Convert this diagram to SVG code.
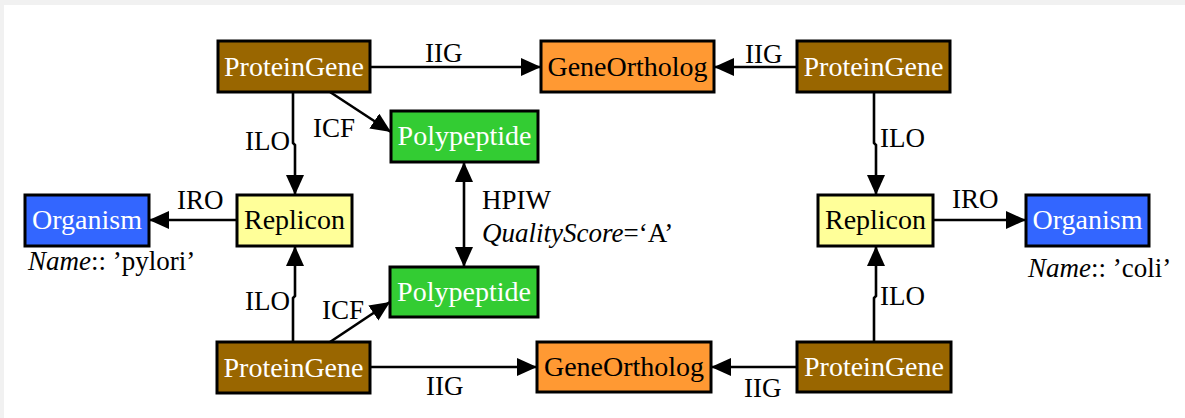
<svg xmlns="http://www.w3.org/2000/svg" width="1185" height="418" viewBox="0 0 1185 418">
<style>
.n rect{stroke:#000;stroke-width:3}
.t{font-family:"Liberation Serif","Times New Roman",serif;font-size:28px;text-anchor:middle}
.w{fill:#fff}
.k{fill:#000}
.lb{font-family:"Liberation Serif","Times New Roman",serif;font-size:27px;fill:#000}
.e{stroke:#000;stroke-width:2.6;fill:none}
.pg{fill:#996600}.go{fill:#ff9933}.pp{fill:#33cc33}.og{fill:#3366ff}.rp{fill:#ffff99}
</style>
<defs>
<marker id="ah" markerUnits="userSpaceOnUse" markerWidth="21" markerHeight="19" refX="20" refY="9" orient="auto-start-reverse">
<path d="M0,0 L20,9 L0,18 z" fill="#000"/>
</marker>
</defs>
<rect x="0" y="0" width="1185" height="418" fill="#f1f1f1"/>
<rect x="4" y="5" width="1181" height="413" fill="#fff"/>
<g id="connectors">
<path class="e" d="M370,67 L541,67" marker-end="url(#ah)"/>
<path class="e" d="M797,67 L714,67" marker-end="url(#ah)"/>
<path class="e" d="M330,92 L391,132" marker-end="url(#ah)"/>
<path class="e" d="M293,92 L293,143 L295,145 L295,195" marker-end="url(#ah)"/>
<path class="e" d="M237,220 L149,220" marker-end="url(#ah)"/>
<path class="e" d="M464,162 L464,267" marker-start="url(#ah)" marker-end="url(#ah)"/>
<path class="e" d="M293,342 L293,298 L295,296 L295,246" marker-end="url(#ah)"/>
<path class="e" d="M330,342 L390,302" marker-end="url(#ah)"/>
<path class="e" d="M370,367 L537,367" marker-end="url(#ah)"/>
<path class="e" d="M797,367 L711,367" marker-end="url(#ah)"/>
<path class="e" d="M874,92 L874,143 L876,145 L876,195" marker-end="url(#ah)"/>
<path class="e" d="M874,342 L874,298 L876,296 L876,246" marker-end="url(#ah)"/>
<path class="e" d="M933,220 L1026,220" marker-end="url(#ah)"/>
<text class="lb" x="425" y="62">IIG</text>
<text class="lb" x="745" y="63">IIG</text>
<text class="lb" x="313" y="137">ICF</text>
<text class="lb" x="245" y="150">ILO</text>
<text class="lb" x="880" y="147">ILO</text>
<text class="lb" x="177" y="209">IRO</text>
<text class="lb" x="952" y="208">IRO</text>
<text class="lb" x="482" y="209">HPIW</text>
<text class="lb" x="482" y="242"><tspan font-style="italic">QualityScore</tspan>=‘A’</text>
<text class="lb" x="245" y="310">ILO</text>
<text class="lb" x="322" y="319">ICF</text>
<text class="lb" x="880" y="305">ILO</text>
<text class="lb" x="426" y="395">IIG</text>
<text class="lb" x="744" y="397">IIG</text>
</g>
<g id="pg-tl" class="n"><rect class="pg" x="218" y="41" width="152" height="51"/><text class="t w" x="294" y="76">ProteinGene</text></g>
<g id="go-top" class="n"><rect class="go" x="541" y="41" width="173" height="51"/><text class="t k" x="627.5" y="76">GeneOrtholog</text></g>
<g id="pg-tr" class="n"><rect class="pg" x="797" y="41" width="153" height="51"/><text class="t w" x="873.5" y="76">ProteinGene</text></g>
<g id="pp-top" class="n"><rect class="pp" x="391" y="111" width="147" height="51"/><text class="t w" x="464.5" y="145">Polypeptide</text></g>
<g id="og-left" class="n"><rect class="og" x="25" y="195" width="124" height="51"/><text class="t w" x="87" y="229">Organism</text></g>
<text class="lb" x="28" y="270"><tspan font-style="italic">Name</tspan>:: ’pylori’</text>
<g id="rp-left" class="n"><rect class="rp" x="237" y="195" width="115" height="51"/><text class="t k" x="294.5" y="229">Replicon</text></g>
<g id="pp-bot" class="n"><rect class="pp" x="390" y="267" width="148" height="50"/><text class="t w" x="464" y="301">Polypeptide</text></g>
<g id="rp-right" class="n"><rect class="rp" x="818" y="195" width="115" height="51"/><text class="t k" x="875.5" y="229">Replicon</text></g>
<g id="og-right" class="n"><rect class="og" x="1026" y="195" width="123" height="51"/><text class="t w" x="1087.5" y="229">Organism</text></g>
<text class="lb" x="1028" y="277"><tspan font-style="italic">Name</tspan>:: ’coli’</text>
<g id="pg-bl" class="n"><rect class="pg" x="217" y="342" width="153" height="51"/><text class="t w" x="293.5" y="377">ProteinGene</text></g>
<g id="go-bot" class="n"><rect class="go" x="537" y="342" width="174" height="50"/><text class="t k" x="624" y="376">GeneOrtholog</text></g>
<g id="pg-br" class="n"><rect class="pg" x="797" y="342" width="154" height="50"/><text class="t w" x="874" y="376">ProteinGene</text></g>
</svg>
